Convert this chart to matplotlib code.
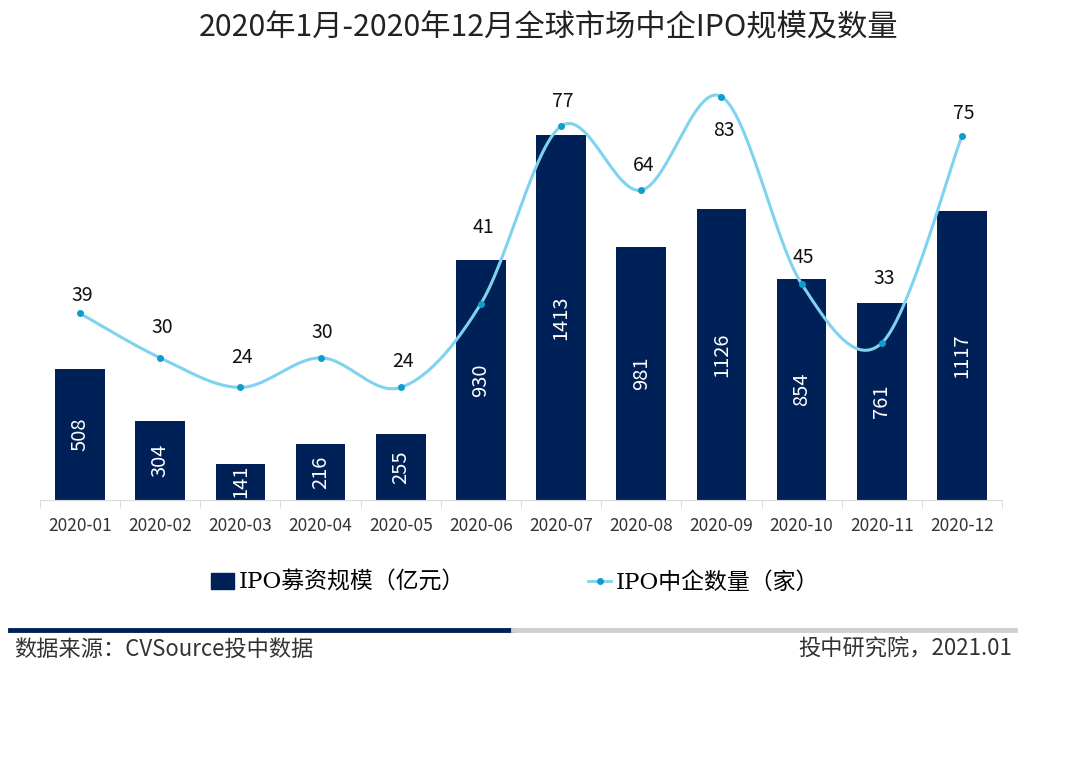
import numpy as np
import matplotlib
matplotlib.use('agg')
import matplotlib.pyplot as plt
from matplotlib.lines import Line2D
from matplotlib.patches import Patch

plt.rcParams['font.family'] = ['Noto Sans CJK SC', 'DejaVu Sans']

months = ['2020-01', '2020-02', '2020-03', '2020-04', '2020-05', '2020-06',
          '2020-07', '2020-08', '2020-09', '2020-10', '2020-11', '2020-12']
amount = [508, 304, 141, 216, 255, 930, 1413, 981, 1126, 854, 761, 1117]
count = [39, 30, 24, 30, 24, 41, 77, 64, 83, 45, 33, 75]

# label offsets (pixels above the point; negative = below), as placed in the source
label_dy = [18, 30, 30, 25, 26, 76, 25, 25, -34, 26, 65, 23]

BAR = '#002158'
LINE = '#7fd3ee'
MARK = '#109ccc'


def smooth(x, y, n=30):
    # Catmull-Rom style bezier, similar to Excel's smoothed line
    x = np.asarray(x, float)
    y = np.asarray(y, float)
    xs, ys = [], []
    for i in range(len(x) - 1):
        p0 = (x[max(i - 1, 0)], y[max(i - 1, 0)])
        p1 = (x[i], y[i])
        p2 = (x[i + 1], y[i + 1])
        p3 = (x[min(i + 2, len(x) - 1)], y[min(i + 2, len(x) - 1)])
        c1 = (p1[0] + (p2[0] - p0[0]) / 6, p1[1] + (p2[1] - p0[1]) / 6)
        c2 = (p2[0] - (p3[0] - p1[0]) / 6, p2[1] - (p3[1] - p1[1]) / 6)
        t = np.linspace(0, 1, n)
        bx = (1-t)**3*p1[0] + 3*(1-t)**2*t*c1[0] + 3*(1-t)*t**2*c2[0] + t**3*p2[0]
        by = (1-t)**3*p1[1] + 3*(1-t)**2*t*c1[1] + 3*(1-t)*t**2*c2[1] + t**3*p2[1]
        xs.extend(bx)
        ys.extend(by)
    return xs, ys


fig = plt.figure(figsize=(10.8, 7.6), dpi=100)
ax = fig.add_axes([40 / 1080, 1 - 500 / 760, 962 / 1080, 420 / 760])
x = np.arange(len(months))

ax.bar(x, amount, width=0.62, color=BAR, zorder=2)
for xi, v in zip(x, amount):
    ax.text(xi, v / 2, str(v), rotation=90, color='white', fontsize=14.5,
            ha='center', va='center', zorder=3)

ax.set_xlim(-0.5, len(months) - 0.5)
ax.set_ylim(0, 1626)
ax.set_yticks([])
for s in ['top', 'right', 'left']:
    ax.spines[s].set_visible(False)
ax.spines['bottom'].set_color('#d9d9d9')
ax.set_xticks(x)
ax.set_xticklabels(months, fontsize=12.5, color='#333333')
ax.tick_params(axis='x', length=0, pad=12)
ax.set_xticks(np.arange(-0.5, len(months)), minor=True)
ax.tick_params(axis='x', which='minor', length=6, color='#d9d9d9')

ax2 = ax.twinx()
ax2.set_ylim(1.16, 86.36)
ax2.axis('off')
sx, sy = smooth(x, count)
ax2.plot(sx, sy, color=LINE, lw=2.2, zorder=4)
ax2.plot(x, count, 'o', color=MARK, ms=4, zorder=5)
for xi, v, dy in zip(x, count, label_dy):
    ax2.annotate(str(v), (xi, v), xytext=(1.5, dy * 0.72), textcoords='offset points',
                 ha='center', va='center', fontsize=14, color='#111111', zorder=6)

fig.text(549 / 1080, 1 - 28 / 760, '2020年1月-2020年12月全球市场中企IPO规模及数量',
         ha='center', va='center', fontsize=21.8, color='#222222')

handles = [Patch(color=BAR),
           Line2D([0], [0], color=LINE, lw=2.0, marker='o', ms=4,
                  markerfacecolor=MARK, markeredgecolor=MARK)]
fig.legend(handles, ['IPO募资规模（亿元）', 'IPO中企数量（家）'],
           loc='center', bbox_to_anchor=(0.477, 1 - 583 / 760), ncol=2,
           frameon=False, columnspacing=5.4, handlelength=1.0, handletextpad=0.2,
           prop={'family': ['DejaVu Serif', 'Noto Sans CJK SC'], 'size': 16.5})

fig.add_artist(Line2D([10 / 1080, 513 / 1080], [1 - 630 / 760] * 2, color=BAR, lw=3.5))
fig.add_artist(Line2D([513 / 1080, 1015 / 1080], [1 - 630 / 760] * 2, color='#d0d0d0', lw=3.5))
fig.text(14 / 1080, 1 - 649 / 760, '数据来源：CVSource投中数据', ha='left', va='center',
         fontsize=16, color='#333333')
fig.text(1012 / 1080, 1 - 649 / 760, '投中研究院，2021.01', ha='right', va='center',
         fontsize=16, color='#333333')

fig.savefig('out.png', dpi=100)
